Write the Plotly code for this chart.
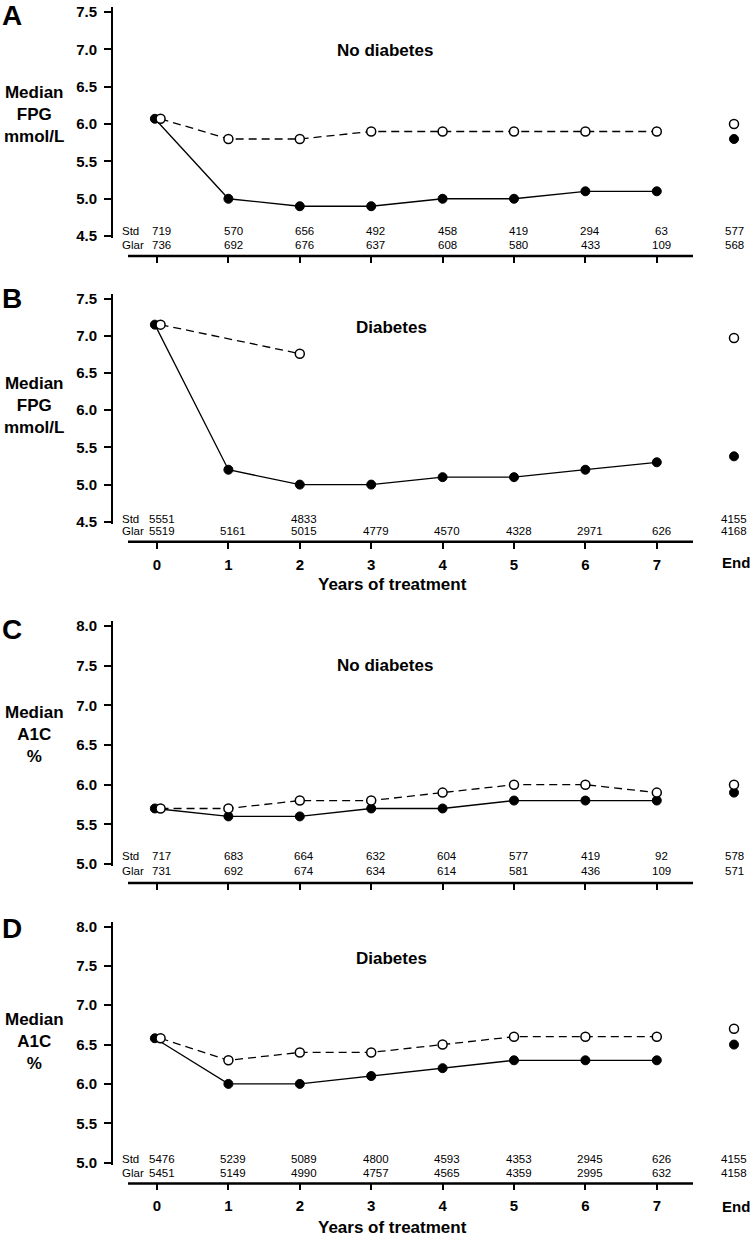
import plotly.graph_objects as go

W, H = 754, 1244

# ---------------- data ----------------
years = [0, 1, 2, 3, 4, 5, 6, 7]
end_label = "End"

# Panel A: FPG, no diabetes
fpgA_glar = [6.07, 5.0, 4.9, 4.9, 5.0, 5.0, 5.1, 5.1]
fpgA_std = [6.07, 5.8, 5.8, 5.9, 5.9, 5.9, 5.9, 5.9]
fpgA_glar_end = 5.8
fpgA_std_end = 6.0
nA_std = ["719", "570", "656", "492", "458", "419", "294", "63"]
nA_glar = ["736", "692", "676", "637", "608", "580", "433", "109"]
nA_std_end, nA_glar_end = "577", "568"

# Panel B: FPG, diabetes
fpgB_glar = [7.15, 5.2, 5.0, 5.0, 5.1, 5.1, 5.2, 5.3]
fpgB_std = [7.15, None, 6.76, None, None, None, None, None]
fpgB_glar_end = 5.38
fpgB_std_end = 6.97
nB_std = ["5551", "", "4833", "", "", "", "", ""]
nB_glar = ["5519", "5161", "5015", "4779", "4570", "4328", "2971", "626"]
nB_std_end, nB_glar_end = "4155", "4168"

# Panel C: A1C, no diabetes
a1cC_glar = [5.7, 5.6, 5.6, 5.7, 5.7, 5.8, 5.8, 5.8]
a1cC_std = [5.7, 5.7, 5.8, 5.8, 5.9, 6.0, 6.0, 5.9]
a1cC_glar_end = 5.9
a1cC_std_end = 6.0
nC_std = ["717", "683", "664", "632", "604", "577", "419", "92"]
nC_glar = ["731", "692", "674", "634", "614", "581", "436", "109"]
nC_std_end, nC_glar_end = "578", "571"

# Panel D: A1C, diabetes
a1cD_glar = [6.58, 6.0, 6.0, 6.1, 6.2, 6.3, 6.3, 6.3]
a1cD_std = [6.58, 6.3, 6.4, 6.4, 6.5, 6.6, 6.6, 6.6]
a1cD_glar_end = 6.5
a1cD_std_end = 6.7
nD_std = ["5476", "5239", "5089", "4800", "4593", "4353", "2945", "626"]
nD_glar = ["5451", "5149", "4990", "4757", "4565", "4359", "2995", "632"]
nD_std_end, nD_glar_end = "4155", "4158"

yticksA = [4.5, 5.0, 5.5, 6.0, 6.5, 7.0, 7.5]
yticksC = [5.0, 5.5, 6.0, 6.5, 7.0, 7.5, 8.0]

# ---------------- layout helpers ----------------
X0_PX, PX_PER_YR = 157.0, 71.4
YAX_PX = 112
END_X = (734 - X0_PX) / PX_PER_YR
DODGE0 = {"glar": -0.03, "std": 0.05}
COUNT_SHIFT = 0.065


def xval(px):
    return (px - X0_PX) / PX_PER_YR


def py(px):
    return 1 - px / H


FONT = "Liberation Sans, Arial, sans-serif"
NARROW = "Liberation Sans Narrow, Arial Narrow, Liberation Sans, Arial, sans-serif"

panels = [
    dict(letter="A", glar=fpgA_glar, std=fpgA_std, ge=fpgA_glar_end, se=fpgA_std_end,
         ns=nA_std, ng=nA_glar, nse=nA_std_end, nge=nA_glar_end, ticks=yticksA,
         lo_px=234, hi_px=8, xline=254, rows=(229, 243), title="No diabetes", tx=385, ty=47,
         ytitle="Median<br>FPG<br>mmol/L", yt=111, letter_y=12, xlabels=False),
    dict(letter="B", glar=fpgB_glar, std=fpgB_std, ge=fpgB_glar_end, se=fpgB_std_end,
         ns=nB_std, ng=nB_glar, nse=nB_std_end, nge=nB_glar_end, ticks=yticksA,
         lo_px=522, hi_px=297, xline=542, rows=(519, 531), title="Diabetes", tx=391, ty=326,
         ytitle="Median<br>FPG<br>mmol/L", yt=405, letter_y=297, xlabels=True,
         xl_y=563, xt_y=585),
    dict(letter="C", glar=a1cC_glar, std=a1cC_std, ge=a1cC_glar_end, se=a1cC_std_end,
         ns=nC_std, ng=nC_glar, nse=nC_std_end, nge=nC_glar_end, ticks=yticksC,
         lo_px=867, hi_px=627, xline=886, rows=(859, 874), title="No diabetes", tx=385, ty=667,
         ytitle="Median<br>A1C<br>%", yt=736, letter_y=631, xlabels=False),
    dict(letter="D", glar=a1cD_glar, std=a1cD_std, ge=a1cD_glar_end, se=a1cD_std_end,
         ns=nD_std, ng=nD_glar, nse=nD_std_end, nge=nD_glar_end, ticks=yticksC,
         lo_px=1168, hi_px=930, xline=1189, rows=(1164, 1178), title="Diabetes", tx=391, ty=962,
         ytitle="Median<br>A1C<br>%", yt=1046, letter_y=932, xlabels=True,
         xl_y=1212, xt_y=1233),
]

fig = go.Figure()
annotations = []
shapes = []
layout_axes = {}

for i, p in enumerate(panels):
    n = "" if i == 0 else str(i + 1)
    xa, ya = "x" + n, "y" + n
    lo, hi = p["ticks"][0], p["ticks"][-1]
    scale = (p["lo_px"] - p["hi_px"]) / (hi - lo)
    top_px = p["hi_px"] - 5
    bot_px = p["lo_px"] + 2
    yr = [lo - 2 / scale, hi + 5 / scale]

    x_glar = [y + (DODGE0["glar"] if y == 0 else 0) for y in years]
    x_std = [y + (DODGE0["std"] if y == 0 else 0) for y in years]

    fig.add_trace(go.Scatter(
        x=x_glar, y=p["glar"], xaxis=xa, yaxis=ya, mode="lines+markers",
        line=dict(color="black", width=1.3),
        marker=dict(color="black", size=9, line=dict(color="black", width=1)),
        showlegend=False, hoverinfo="skip", cliponaxis=False))
    fig.add_trace(go.Scatter(
        x=x_std, y=p["std"], xaxis=xa, yaxis=ya, mode="lines+markers", connectgaps=True,
        line=dict(color="black", width=1.3, dash="8px,5px"),
        marker=dict(color="white", size=9, line=dict(color="black", width=1.5)),
        showlegend=False, hoverinfo="skip", cliponaxis=False))
    fig.add_trace(go.Scatter(
        x=[END_X], y=[p["ge"]], xaxis=xa, yaxis=ya, mode="markers", cliponaxis=False,
        marker=dict(color="black", size=9, line=dict(color="black", width=1)),
        showlegend=False, hoverinfo="skip"))
    fig.add_trace(go.Scatter(
        x=[END_X], y=[p["se"]], xaxis=xa, yaxis=ya, mode="markers", cliponaxis=False,
        marker=dict(color="white", size=9, line=dict(color="black", width=1.5)),
        showlegend=False, hoverinfo="skip"))

    layout_axes["xaxis" + n] = dict(
        domain=[YAX_PX / W, 1], range=[xval(YAX_PX), xval(W)],
        anchor="free", position=py(p["xline"]),
        showline=False,
        ticks="outside", ticklen=6, tickwidth=1.5, tickcolor="black",
        tickvals=years, ticktext=[str(y) for y in years],
        showticklabels=p["xlabels"], ticklabelstandoff=3,
        tickfont=dict(family=FONT, size=15, color="black", weight="bold"),
        showgrid=False, zeroline=False, fixedrange=True)
    layout_axes["yaxis" + n] = dict(
        domain=[py(bot_px), py(top_px)], range=yr,
        anchor="free", position=YAX_PX / W,
        showline=True, linecolor="black", linewidth=2,
        ticks="outside", ticklen=7, tickwidth=1.5, tickcolor="black",
        tickvals=p["ticks"], ticktext=[f"{t:.1f}" for t in p["ticks"]],
        ticklabelstandoff=4,
        tickfont=dict(family=FONT, size=15, color="black", weight="bold"),
        showgrid=False, zeroline=False, fixedrange=True)

    # detached x-axis baseline
    shapes.append(dict(type="line", xref=xa, yref="paper", x0=xval(128), x1=xval(693),
                       y0=py(p["xline"]), y1=py(p["xline"]),
                       line=dict(color="black", width=2.5)))

    # panel letter
    annotations.append(dict(text=f"<b>{p['letter']}</b>", x=0, xanchor="left",
                            y=py(p["letter_y"]), yanchor="middle", xref="paper", yref="paper",
                            showarrow=False, font=dict(family=FONT, size=28, color="black")))
    # y title
    annotations.append(dict(text=f"<b>{p['ytitle']}</b>", x=34 / W, xanchor="center",
                            y=py(p["yt"]), yanchor="middle", xref="paper", yref="paper",
                            showarrow=False, align="center",
                            font=dict(family=FONT, size=17, color="black")))
    # subgroup title
    annotations.append(dict(text=f"<b>{p['title']}</b>", x=p["tx"] / W, xanchor="center",
                            y=py(p["ty"]), yanchor="middle", xref="paper", yref="paper",
                            showarrow=False, font=dict(family=FONT, size=17, color="black")))
    # count rows
    for row_px, lab, vals, endv in ((p["rows"][0], "Std", p["ns"], p["nse"]),
                                    (p["rows"][1], "Glar", p["ng"], p["nge"])):
        annotations.append(dict(text=lab, x=120 / W, xanchor="left", y=py(row_px),
                                yanchor="middle", xref="paper", yref="paper", showarrow=False,
                                font=dict(family=NARROW, size=11.5, color="black")))
        for yv, v in zip(years, vals):
            if v:
                annotations.append(dict(text=v, x=yv + COUNT_SHIFT, xref=xa, xanchor="center",
                                        y=py(row_px), yref="paper", yanchor="middle",
                                        showarrow=False,
                                        font=dict(family=NARROW, size=11.5, color="black")))
        annotations.append(dict(text=endv, x=END_X, xref=xa, xanchor="center",
                                y=py(row_px), yref="paper", yanchor="middle", showarrow=False,
                                font=dict(family=NARROW, size=11.5, color="black")))
    if p["xlabels"]:
        annotations.append(dict(text=f"<b>{end_label}</b>", x=END_X + 0.03, xref=xa,
                                xanchor="center", y=py(p["xl_y"]), yref="paper",
                                yanchor="middle", showarrow=False,
                                font=dict(family=FONT, size=15, color="black")))
        annotations.append(dict(text="<b>Years of treatment</b>", x=392 / W, xref="paper",
                                xanchor="center", y=py(p["xt_y"]), yref="paper",
                                yanchor="middle", showarrow=False,
                                font=dict(family=FONT, size=17, color="black")))

fig.update_layout(
    width=W, height=H, margin=dict(l=0, r=0, t=0, b=0),
    paper_bgcolor="white", plot_bgcolor="white",
    showlegend=False, annotations=annotations, shapes=shapes, **layout_axes)

fig.write_html("out.html", config={"displayModeBar": False},
               post_script="document.body.style.margin='0';document.body.style.overflow='hidden';")
